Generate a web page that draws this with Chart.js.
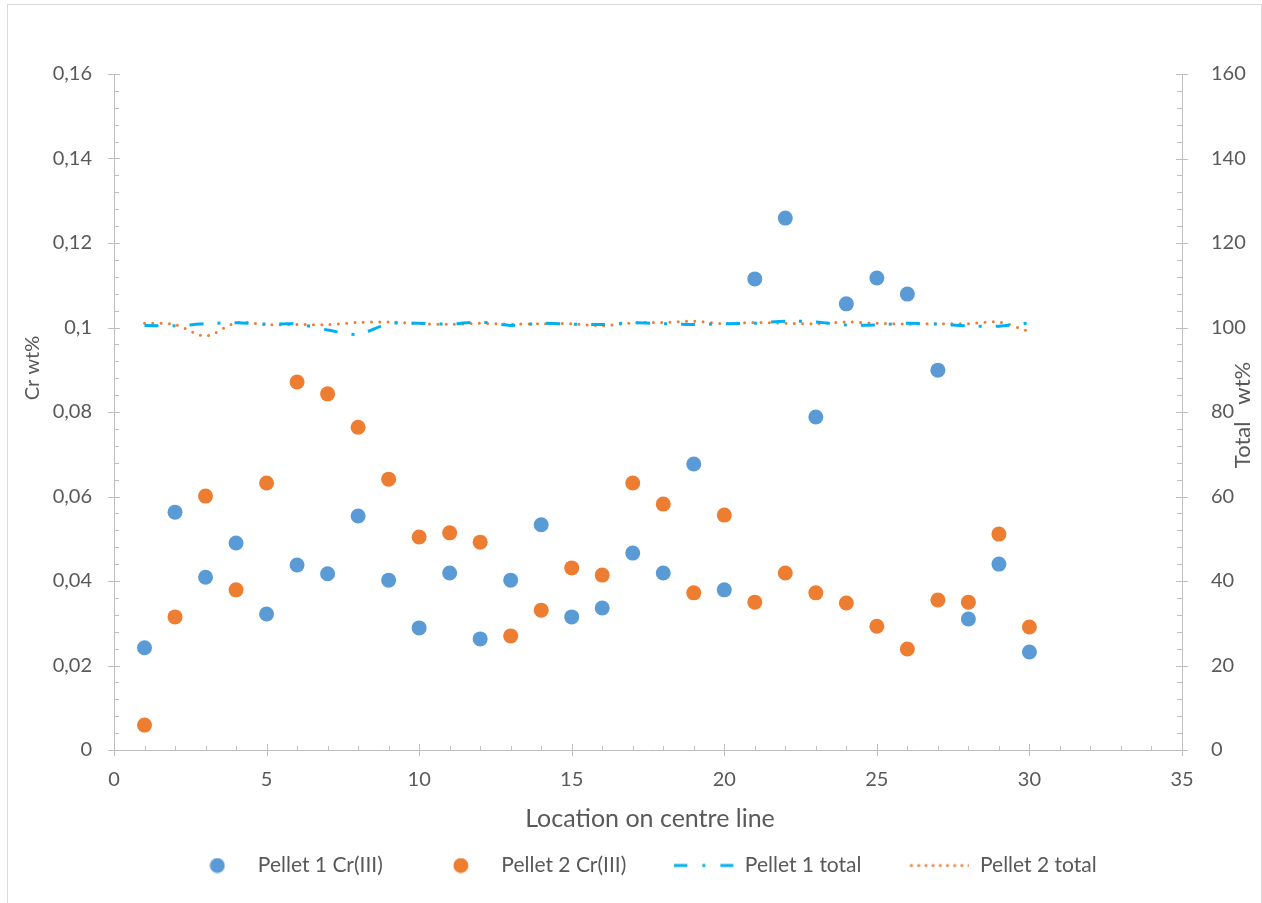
<!DOCTYPE html>
<html>
<head>
<meta charset="utf-8">
<script src="https://cdn.jsdelivr.net/npm/chart.js@4.4.1/dist/chart.umd.min.js"></script>
<style>
  body { margin: 0; background: #fff; }
  #wrap { position: relative; width: 1262px; height: 903px; overflow: hidden; }
  #frame { position: absolute; left: 7px; top: 4px; width: 1253px; height: 940px; border: 1px solid #d9d9d9; }
  canvas { position: absolute; left: 0; top: 0; }
</style>
</head>
<body>
<div id="wrap">
  <div id="frame"></div>
  <canvas id="chart" width="1262" height="903"></canvas>
</div>
<script>
// data
const locations = [1, 2, 3, 4, 5, 6, 7, 8, 9, 10, 11, 12, 13, 14, 15, 16, 17, 18, 19, 20, 21, 22, 23, 24, 25, 26, 27, 28, 29, 30];
const pellet1Cr = [0.0242, 0.0563, 0.0409, 0.0490, 0.0322, 0.0438, 0.0417, 0.0554, 0.0402, 0.0289,
                   0.0419, 0.0263, 0.0402, 0.0533, 0.0315, 0.0336, 0.0466, 0.0419, 0.0677, 0.0379,
                   0.1115, 0.1259, 0.0788, 0.1056, 0.1117, 0.1079, 0.0899, 0.0310, 0.0440, 0.0232];
const pellet2Cr = [0.0059, 0.0315, 0.0601, 0.0379, 0.0632, 0.0871, 0.0843, 0.0764, 0.0641, 0.0504,
                   0.0514, 0.0492, 0.0270, 0.0331, 0.0431, 0.0414, 0.0632, 0.0582, 0.0372, 0.0556,
                   0.0350, 0.0419, 0.0372, 0.0348, 0.0293, 0.0239, 0.0355, 0.0350, 0.0511, 0.0291];
const pellet1Total = [100.5, 100.4, 100.9, 101.1, 100.8, 100.8, 99.4, 98.4, 100.9, 101.0,
                      100.8, 101.3, 100.5, 101.0, 100.8, 100.7, 101.1, 100.9, 100.7, 100.9,
                      101.0, 101.5, 101.3, 100.6, 100.6, 101.0, 100.8, 100.4, 100.3, 101.1];
const pellet2Total = [101.0, 100.7, 98.0, 101.1, 100.7, 100.7, 100.7, 101.2, 101.3, 100.9,
                      100.75, 101.0, 100.8, 100.9, 100.9, 100.4, 101.1, 101.2, 101.5, 100.9,
                      101.2, 101.0, 100.9, 101.3, 101.0, 100.8, 100.9, 100.9, 101.3, 99.0];
const seriesNames = ['Pellet 1 Cr(III)', 'Pellet 2 Cr(III)', 'Pellet 1 total', 'Pellet 2 total'];

const xRange = [0, 35, 5, 1];       // min, max, major step, minor step
const crRange = [0, 0.16, 0.02, 0.004];
const totalRange = [0, 160, 20, 4];

const blue = '#5B9BD5';
const orange = '#ED7D31';
const sky = '#00B0F0';
const axisGrey = '#bfbfbf';
const textGrey = '#595959';
const padBottom = 17;

Chart.defaults.font.family = "Lato, 'Open Sans', sans-serif";
Chart.defaults.color = textGrey;

const toPoints = ys => locations.map((x, i) => ({ x: x, y: ys[i] }));

// little canvases used as legend symbols
function symbol(kind, color) {
    const c = document.createElement('canvas');
    const ctx = c.getContext('2d');
    if (kind === 'dot') {
        c.width = 16; c.height = 16;
        ctx.fillStyle = color;
        ctx.beginPath();
        ctx.arc(8, 8, 7.5, 0, Math.PI * 2);
        ctx.fill();
    } else {
        c.width = 60; c.height = 6;
        ctx.strokeStyle = color;
        ctx.lineWidth = 3;
        if (kind === 'dashdot') {
            ctx.setLineDash([13, 15, 3, 15]);
        } else {
            ctx.lineCap = 'round';
            ctx.setLineDash([0, 7.2]);
        }
        ctx.beginPath();
        ctx.moveTo(kind === 'dashdot' ? 0 : 2, 3);
        ctx.lineTo(60, 3);
        ctx.stroke();
    }
    return c;
}
const legendSymbols = [symbol('dot', blue), symbol('dot', orange), symbol('dashdot', sky), symbol('dotted', orange)];

const axisMarks = {
    id: 'axisMarks',
    beforeDatasetsDraw(chart) {
        const ctx = chart.ctx;
        const { x, y, y2 } = chart.scales;
        ctx.save();
        ctx.strokeStyle = axisGrey;
        ctx.lineWidth = 1;
        const seg = (x1, y1, x2, y2_) => {
            ctx.beginPath();
            ctx.moveTo(x1, y1);
            ctx.lineTo(x2, y2_);
            ctx.stroke();
        };
        const base = y.bottom;
        const nx = Math.round((xRange[1] - xRange[0]) / xRange[3]);
        for (let i = 0; i <= nx; i++) {
            const px = Math.round(x.getPixelForValue(xRange[0] + i * xRange[3])) + 0.5;
            if (i % 5 === 0) seg(px, base - 6, px, base + 6);
            else seg(px, base - 4, px, base);
        }
        const ny = Math.round((crRange[1] - crRange[0]) / crRange[3]);
        for (let i = 0; i <= ny; i++) {
            const py = Math.round(y.getPixelForValue(crRange[0] + i * crRange[3])) + 0.5;
            if (i % 5 === 0) seg(y.right - 6, py, y.right + 6, py);
            else seg(y.right, py, y.right + 5, py);
        }
        const ny2 = Math.round((totalRange[1] - totalRange[0]) / totalRange[3]);
        for (let i = 0; i <= ny2; i++) {
            const py = Math.round(y2.getPixelForValue(totalRange[0] + i * totalRange[3])) + 0.5;
            if (i % 5 === 0) seg(y2.left - 6, py, y2.left + 6, py);
            else seg(y2.left - 5, py, y2.left, py);
        }
        ctx.restore();
    },
    afterDraw(chart) {
        const ctx = chart.ctx;
        const area = chart.chartArea;
        ctx.save();
        ctx.fillStyle = textGrey;
        ctx.textAlign = 'center';
        ctx.textBaseline = 'middle';
        ctx.font = "25px Lato, sans-serif";
        ctx.fillText('Location on centre line', (area.left + area.right) / 2 + 2, 819);
        ctx.save();
        ctx.font = "20px Lato, sans-serif";
        ctx.translate(33, 368);
        ctx.rotate(-Math.PI / 2);
        ctx.fillText('Cr wt%', 0, 0);
        ctx.restore();
        ctx.save();
        ctx.font = "22px Lato, sans-serif";
        ctx.translate(1243, 415);
        ctx.rotate(-Math.PI / 2);
        ctx.fillText('Total   wt%', 0, 0);
        ctx.restore();
        ctx.restore();
    }
};

const commaLabel = v => String(Number(v.toFixed(3))).replace('.', ',');

const chart = new Chart(document.getElementById('chart'), {
    data: {
        datasets: [
            {
                type: 'scatter',
                label: seriesNames[0],
                data: toPoints(pellet1Cr),
                yAxisID: 'y',
                backgroundColor: blue,
                borderColor: blue,
                pointRadius: 7.5,
                pointHoverRadius: 7.5,
                borderWidth: 0
            },
            {
                type: 'scatter',
                label: seriesNames[1],
                data: toPoints(pellet2Cr),
                yAxisID: 'y',
                backgroundColor: orange,
                borderColor: orange,
                pointRadius: 7.5,
                pointHoverRadius: 7.5,
                borderWidth: 0
            },
            {
                type: 'line',
                label: seriesNames[2],
                data: toPoints(pellet1Total),
                yAxisID: 'y2',
                borderColor: sky,
                borderWidth: 3,
                borderDash: [14, 14, 3, 14],
                pointRadius: 0,
                tension: 0.3,
                fill: false
            },
            {
                type: 'line',
                label: seriesNames[3],
                data: toPoints(pellet2Total),
                yAxisID: 'y2',
                borderColor: orange,
                borderWidth: 3,
                borderDash: [0, 8.3],
                borderCapStyle: 'round',
                pointRadius: 0,
                tension: 0.3,
                fill: false
            }
        ]
    },
    options: {
        responsive: false,
        devicePixelRatio: 1,
        animation: false,
        layout: { padding: { top: 74, left: 22, right: 0, bottom: padBottom } },
        scales: {
            x: {
                type: 'linear',
                min: xRange[0],
                max: xRange[1],
                grid: { display: false },
                border: { display: true, color: axisGrey, width: 1 },
                ticks: { stepSize: xRange[2], padding: 10, font: { size: 20 }, color: textGrey },
                afterFit: s => { s.height = 153 - padBottom - (s.chart.legend ? s.chart.legend.height : 40); }
            },
            y: {
                type: 'linear',
                position: 'left',
                min: crRange[0],
                max: crRange[1],
                grid: { display: false },
                border: { display: true, color: axisGrey, width: 1 },
                ticks: { stepSize: crRange[2], padding: 14, font: { size: 20 }, color: textGrey, callback: commaLabel },
                afterFit: s => { s.width = 92; }
            },
            y2: {
                type: 'linear',
                position: 'right',
                min: totalRange[0],
                max: totalRange[1],
                grid: { display: false },
                border: { display: true, color: axisGrey, width: 1 },
                ticks: { stepSize: totalRange[2], padding: 21, font: { size: 20 }, color: textGrey },
                afterFit: s => { s.width = 80; }
            }
        },
        plugins: {
            tooltip: { enabled: false },
            legend: {
                position: 'bottom',
                labels: {
                    usePointStyle: true,
                    pointStyleWidth: 60,
                    padding: 48,
                    font: { size: 21 },
                    color: textGrey,
                    generateLabels: ch => ch.data.datasets.map((ds, i) => ({
                        text: ds.label,
                        fillStyle: 'transparent',
                        strokeStyle: 'transparent',
                        lineWidth: 0,
                        pointStyle: legendSymbols[i],
                        hidden: false,
                        datasetIndex: i,
                        fontColor: textGrey
                    }))
                }
            }
        }
    },
    plugins: [axisMarks]
});
</script>
</body>
</html>
